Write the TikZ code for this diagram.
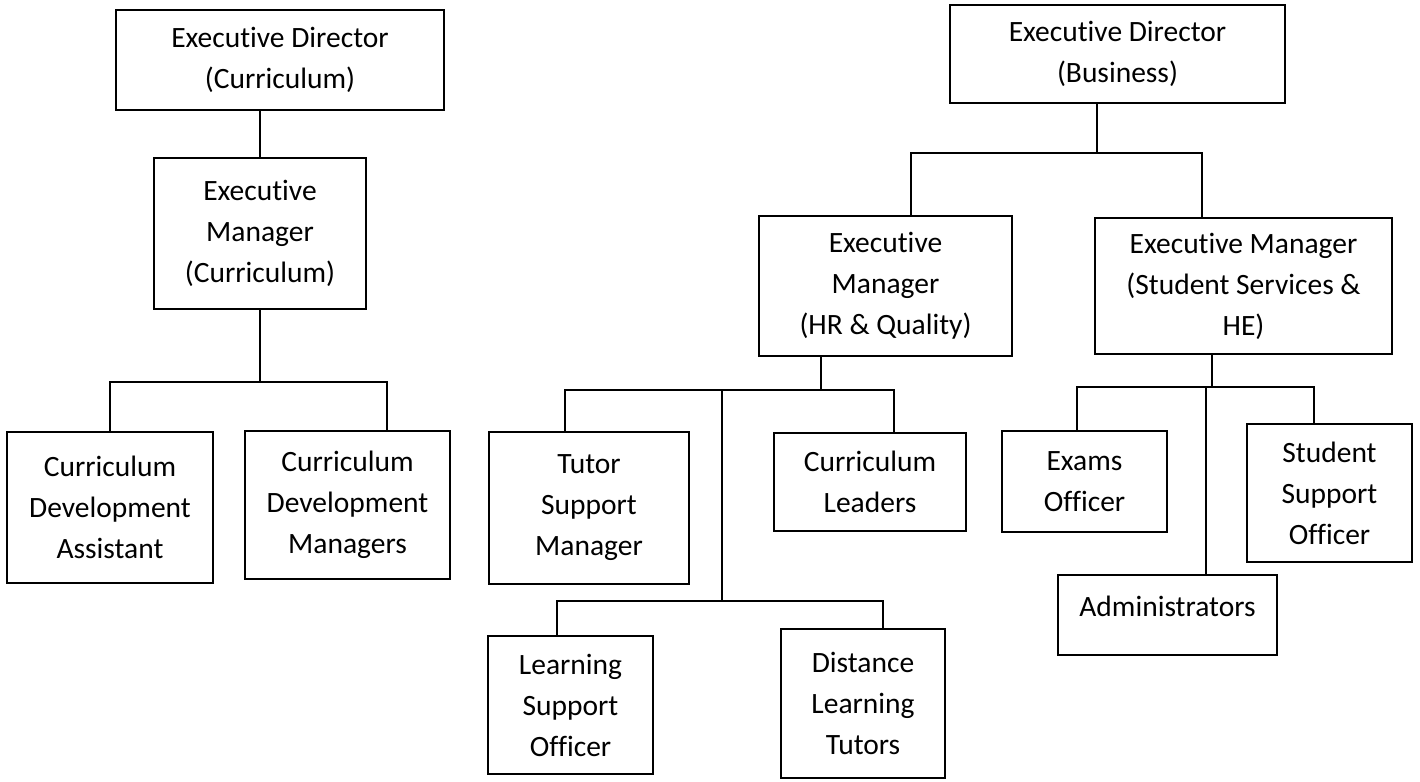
\documentclass[tikz,border=0pt]{standalone}
\usepackage{fontspec}
\setmainfont{Carlito}[Ligatures=NoCommon]
\usetikzlibrary{positioning}
\newcommand\orgfont{\fontsize{29.5}{41}\selectfont}

\begin{document}
\begin{tikzpicture}[x=1pt,y=-1pt,line width=1.8pt,
	post/.style={draw,rectangle,inner sep=0pt,align=center,font=\orgfont}]
\useasboundingbox (0,0) rectangle (1420,781);
% boxes: name/x/y/width/height/text
\foreach \n/\x/\y/\w/\h/\txt in {
	edc/280/60/328/100/{Executive Director\\(Curriculum)},
	emc/260/233.5/212/151/{Executive\\Manager\\(Curriculum)},
	cda/110/507.5/206/151/{Curriculum\\Development\\Assistant},
	cdm/347.5/505/205/148/{Curriculum\\Development\\Managers},
	edb/1117.5/54/335/98/{Executive Director\\(Business)},
	emhr/885.5/286/253/140/{Executive\\Manager\\(HR \& Quality)},
	emss/1243.5/286/297/136/{Executive Manager\\(Student Services \&\\HE)},
	tsm/589/508/200/152/{Tutor\\Support\\Manager},
	cl/870/482/192/98/{Curriculum\\Leaders},
	lso/570.5/705/165/138/{Learning\\Support\\Officer},
	dlt/863/703.5/164/149/{Distance\\Learning\\Tutors},
	exo/1084.5/481.5/165/101/{Exams\\Officer},
	sso/1329.5/493/165/138/{Student\\Support\\Officer}}
	\node[post,minimum width=\w pt,minimum height=\h pt] (\n) at (\x,\y) {\txt};
\node[post,minimum width=219pt,minimum height=80pt,text depth=18pt] (adm) at (1167.5,615) {Administrators};
% bus levels
\coordinate (busC) at (0,382);
\coordinate (busB) at (0,153);
\coordinate (busH) at (0,390);
\coordinate (busL) at (0,601);
\coordinate (busS) at (0,387);
% line ends on the boxes
\coordinate (cdmin) at ([xshift=39.5]cdm.north);
\coordinate (edbout) at ([xshift=-20.5]edb.south);
\coordinate (hrin) at ([xshift=25.5]emhr.north);
\coordinate (ssin) at ([xshift=-41.5]emss.north);
\coordinate (hrout) at ([xshift=-64.5]emhr.south);
\coordinate (tsmin) at ([xshift=-24]tsm.north);
\coordinate (clin) at ([xshift=24]cl.north);
\coordinate (lsoin) at ([xshift=-13.5]lso.north);
\coordinate (dltin) at ([xshift=20]dlt.north);
\coordinate (ssout) at ([xshift=-31.5]emss.south);
\coordinate (exoin) at ([xshift=-7.5]exo.north);
\coordinate (ssoin) at ([xshift=-15.5]sso.north);
\coordinate (admin) at ([xshift=38.5]adm.north);
\coordinate (hrmid) at (722,390);
\draw (edc.south -| emc.north)--(emc.north);
\foreach \p/\q in {emc.south/busC,edbout/busB,hrout/busH,hrmid/busL,ssout/busS,admin/busS}
	\draw (\p)--(\p |- \q);
\foreach \l/\r/\b in {cda.north/cdmin/busC,hrin/ssin/busB,tsmin/clin/busH,lsoin/dltin/busL,exoin/ssoin/busS}
	\draw (\l) |- (\r |- \b)--(\r);
\end{tikzpicture}
\end{document}
